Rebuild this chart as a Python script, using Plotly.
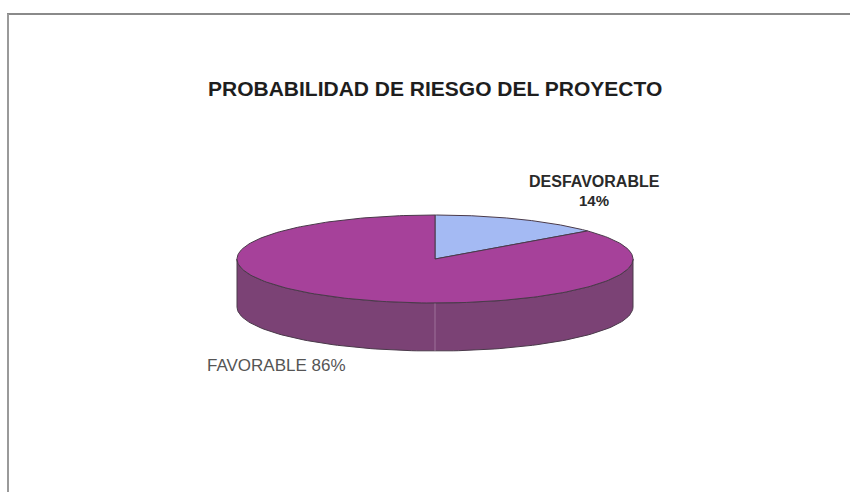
import numpy as np
import plotly.graph_objects as go

# Project risk probability (percent)
labels = ["DESFAVORABLE", "FAVORABLE"]
values = [14, 86]

top_colors = ["#A4BAF3", "#A6419A"]
side_colors = ["#7C72AE", "#7B4275"]
edge_color = "#4A3A4A"

# Pixel geometry of the tilted pie (canvas is 850 x 492, y grows downward)
W, H = 850, 492
cx, cy = 435, 259
rx, ry = 198, 44
depth = 48


def ellipse_pt(theta_deg, dy=0.0):
    t = np.radians(theta_deg)
    return cx + rx * np.sin(t), cy - ry * np.cos(t) + dy


fig = go.Figure()

# slice angles, clockwise from 12 o'clock
total = float(sum(values))
bounds = np.concatenate([[0.0], np.cumsum(values) / total * 360.0])

# front walls (only the part facing the viewer, 90..270 degrees)
for i in range(len(values)):
    a, b = max(bounds[i], 90.0), min(bounds[i + 1], 270.0)
    if a >= b:
        continue
    th = np.linspace(a, b, 120)
    xt, yt = ellipse_pt(th)
    xb, yb = ellipse_pt(th[::-1], depth)
    fig.add_trace(go.Scatter(
        x=np.concatenate([xt, xb, xt[:1]]),
        y=np.concatenate([yt, yb, yt[:1]]),
        mode="lines", fill="toself", fillcolor=side_colors[i],
        line=dict(color=edge_color, width=1), hoverinfo="skip", showlegend=False))

# faint seam down the front of the wall
sx, sy = ellipse_pt(180.0)
fig.add_trace(go.Scatter(x=[sx, sx], y=[sy, sy + depth], mode="lines",
                         line=dict(color="rgba(200,170,200,0.45)", width=1),
                         hoverinfo="skip", showlegend=False))

# top faces of the slices
for i in range(len(values)):
    th = np.linspace(bounds[i], bounds[i + 1], 240)
    xa, ya = ellipse_pt(th)
    fig.add_trace(go.Scatter(
        x=np.concatenate([[cx], xa, [cx]]),
        y=np.concatenate([[cy], ya, [cy]]),
        mode="lines", fill="toself", fillcolor=top_colors[i],
        line=dict(color=edge_color, width=1), name=labels[i],
        hovertemplate=f"{labels[i]}: {values[i]}%<extra></extra>", showlegend=False))

font_face = "Liberation Sans, Arial, sans-serif"
annotations = [
    dict(x=435, y=88, text="<b>PROBABILIDAD DE RIESGO DEL PROYECTO</b>",
         font=dict(size=21, color="#1E1E1E", family=font_face)),
    dict(x=594, y=181, text=f"<b>{labels[0]}</b>",
         font=dict(size=16, color="#2A2A2A", family=font_face)),
    dict(x=594, y=200, text=f"<b>{values[0]}%</b>",
         font=dict(size=15, color="#2A2A2A", family=font_face)),
    dict(x=276, y=365, text=f"{labels[1]} {values[1]}%",
         font=dict(size=17, color="#555555", family=font_face)),
]
for a in annotations:
    a.update(xref="x", yref="y", showarrow=False, xanchor="center", yanchor="middle",
             borderpad=0)

fig.update_layout(
    width=W, height=H, margin=dict(l=0, r=0, t=0, b=0),
    paper_bgcolor="white", plot_bgcolor="white",
    xaxis=dict(range=[0, W], visible=False, fixedrange=True),
    yaxis=dict(range=[H, 0], visible=False, fixedrange=True),
    annotations=annotations,
    shapes=[
        dict(type="line", xref="x", yref="y", x0=7, y0=14, x1=W, y1=14,
             line=dict(color="#8A8A8A", width=2)),
        dict(type="line", xref="x", yref="y", x0=8, y0=14, x1=8, y1=H,
             line=dict(color="#9A9A9A", width=2)),
    ],
)

fig.write_html("out.html")
